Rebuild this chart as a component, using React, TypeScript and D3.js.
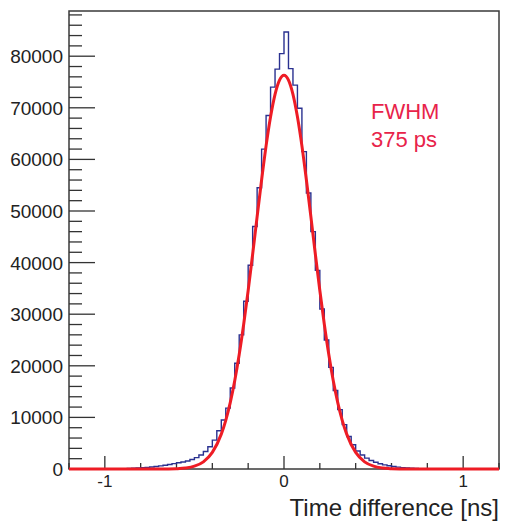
import React, { useEffect, useRef } from 'react';
import * as d3 from 'd3';

// histogram: 96 bins of 0.025 ns from -1.2 to 1.2
const histStart = -1.2;
const binWidth = 0.025;
const counts = [
  0, 0, 0, 0, 0, 0, 0, 5, 10, 18,
  30, 45, 70, 100, 140, 190, 250, 320, 390, 480,
  600, 730, 880, 1050, 1200, 1350, 1550, 1850, 2200, 2700,
  3400, 4300, 5600, 7400, 9500, 11800, 15700, 20500, 26000, 32500,
  39500, 47000, 54500, 62000, 68500, 74000, 77500, 80500,
  84700, 77600, 74400, 69900, 61500, 53500, 46000, 38500, 31000, 25000,
  19700, 15200, 11500, 8600, 6300, 4700, 3500, 2700, 2100, 1650,
  1300, 1020, 800, 620, 480, 360, 270, 200, 140, 100,
  70, 45, 28, 15, 8, 0, 0, 0, 0, 0,
  0, 0, 0, 0, 0, 0,
];

// gaussian fit curve, sampled
const fitX = [
  -1.2, -1.0, -0.8, -0.7, -0.65, -0.6, -0.55, -0.5, -0.45, -0.4, -0.35,
  -0.325, -0.3, -0.275, -0.25, -0.225, -0.2, -0.175, -0.15, -0.125, -0.1, -0.075, -0.05, -0.025,
  0,
  0.025, 0.05, 0.075, 0.1, 0.125, 0.15, 0.175, 0.2, 0.225, 0.25, 0.275, 0.3, 0.325,
  0.35, 0.4, 0.45, 0.5, 0.55, 0.6, 0.65, 0.7, 0.8, 1.0, 1.2,
];
const fitY = [
  0, 0, 0, 5, 18, 62, 193, 545, 1390, 3220, 6760,
  9440, 12870, 17100, 22170, 28040, 34600, 41620, 48900, 56000, 62620, 68260, 72620, 75360,
  76300,
  75360, 72620, 68260, 62620, 56000, 48900, 41620, 34600, 28040, 22170, 17100, 12870, 9440,
  6760, 3220, 1390, 545, 193, 62, 18, 5, 0, 0, 0,
];

const yMajor = [0, 10000, 20000, 30000, 40000, 50000, 60000, 70000, 80000];
const xMajor = [-1, 0, 1];

export default function App() {
  const ref = useRef<SVGSVGElement>(null);

  useEffect(() => {
    const svg = d3.select(ref.current);
    svg.selectAll('*').remove();

    const left = 69, right = 499, top = 11, bottom = 469;
    const font = 'Liberation Sans, Arial, Helvetica, sans-serif';

    const x = d3.scaleLinear().domain([-1.2, 1.2]).range([left, right]);
    const y = d3.scaleLinear().domain([0, 88760]).range([bottom, top]);

    // frame
    svg.append('rect')
      .attr('x', left).attr('y', top)
      .attr('width', right - left).attr('height', bottom - top)
      .attr('fill', 'none')
      .attr('stroke', '#3a3a3a')
      .attr('stroke-width', 1.5);

    // y ticks
    const yMinor = d3.range(0, 88001, 2000);
    svg.append('g').selectAll('line')
      .data(yMinor)
      .enter().append('line')
      .attr('x1', left).attr('x2', d => left + (d % 10000 === 0 ? 26 : 13))
      .attr('y1', d => y(d)).attr('y2', d => y(d))
      .attr('stroke', '#333').attr('stroke-width', 1.3);

    svg.append('g').selectAll('text')
      .data(yMajor)
      .enter().append('text')
      .attr('x', 63).attr('y', d => y(d) + 7)
      .attr('text-anchor', 'end')
      .attr('font-family', font).attr('font-size', 19)
      .attr('fill', '#222')
      .text(d => d);

    // x ticks
    const xMinor = d3.range(-12, 13, 2).map(d => d / 10);
    svg.append('g').selectAll('line')
      .data(xMinor)
      .enter().append('line')
      .attr('x1', d => x(d)).attr('x2', d => x(d))
      .attr('y1', bottom).attr('y2', d => bottom - (xMajor.includes(d) ? 13 : 6))
      .attr('stroke', '#333').attr('stroke-width', 1.3);

    svg.append('g').selectAll('text')
      .data(xMajor)
      .enter().append('text')
      .attr('x', d => x(d)).attr('y', 487)
      .attr('text-anchor', 'middle')
      .attr('font-family', font).attr('font-size', 17)
      .attr('fill', '#222')
      .text(d => d);

    svg.append('text')
      .attr('x', right).attr('y', 516)
      .attr('text-anchor', 'end')
      .attr('font-family', font).attr('font-size', 24)
      .attr('fill', '#222')
      .text('Time difference [ns]');

    // histogram outline
    const pts: [number, number][] = [[x(histStart), y(0)]];
    counts.forEach((c, i) => {
      const x0 = histStart + i * binWidth;
      pts.push([x(x0), y(c)]);
      pts.push([x(x0 + binWidth), y(c)]);
    });
    pts.push([x(histStart + counts.length * binWidth), y(0)]);

    svg.append('path')
      .attr('d', d3.line()(pts))
      .attr('fill', 'none')
      .attr('stroke', '#2a3190')
      .attr('stroke-width', 1.4);

    // fit curve
    const fitLine = d3.line<number>()
      .x((_, i) => x(fitX[i]))
      .y(d => y(d))
      .curve(d3.curveMonotoneX);

    svg.append('path')
      .attr('d', fitLine(fitY))
      .attr('fill', 'none')
      .attr('stroke', '#ee1c25')
      .attr('stroke-width', 3);

    // annotation
    const note = svg.append('g')
      .attr('font-family', font).attr('font-size', 22)
      .attr('fill', '#e8234a');
    note.append('text').attr('x', 371).attr('y', 119).text('FWHM');
    note.append('text').attr('x', 371).attr('y', 146.5).text('375 ps');
  }, []);

  return (
    <svg
      ref={ref}
      width={505}
      height={524}
      style={{ position: 'absolute', left: 0, top: 0, background: '#fff' }}
    />
  );
}
